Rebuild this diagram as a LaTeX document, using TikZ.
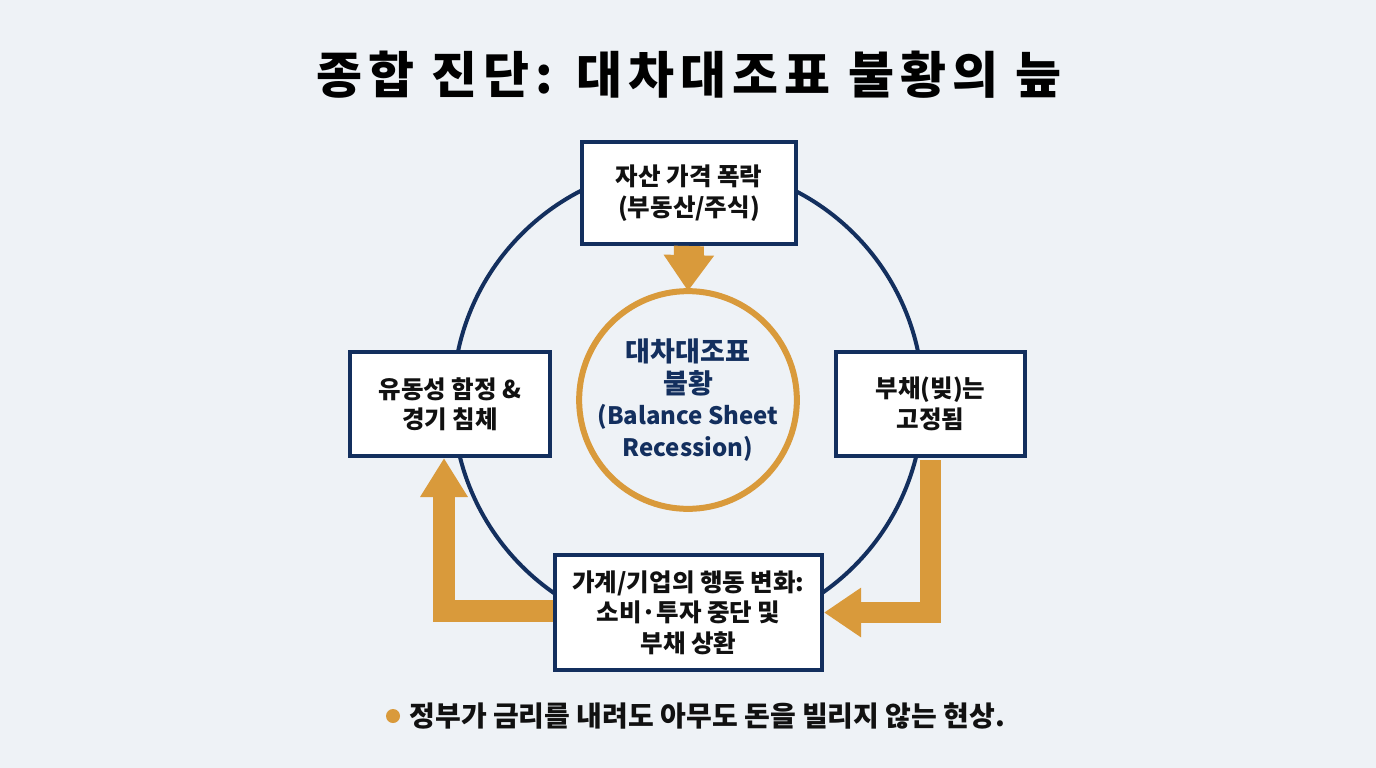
\documentclass[tikz,border=0pt]{standalone}
\usepackage{fontspec}
\setmainfont{Noto Sans CJK KR}
\usetikzlibrary{arrows.meta}
\definecolor{navy}{HTML}{132F5E}
\definecolor{gold}{HTML}{D99A3B}
\definecolor{bg}{HTML}{EEF2F6}
\definecolor{ink}{HTML}{111111}
\tikzset{
  box/.style={draw=navy, line width=4pt, fill=white, align=center, text=ink, font=\fontsize{24.5}{30.5}\selectfont\bfseries, inner sep=0pt},
  flow/.style={draw=gold, line width=#1, line join=miter},
}
\begin{document}
\begin{tikzpicture}[x=1pt,y=-1pt]
\fill[bg] (0,0) rectangle (1376,768);
\useasboundingbox (0,0) rectangle (1376,768);
\node[font=\fontsize{50}{58}\selectfont\bfseries\addfontfeatures{LetterSpace=12}, text=black] (title) at (689,75) {종합 진단: 대차대조표 불황의 늪};
% big circle
\coordinate (c) at (688,400);
\draw[navy, line width=4pt] (c) circle[radius=235];
% nodes
\node[box, minimum width=214pt, minimum height=102pt] (top) at (689,193) {자산 가격 폭락\\(부동산/주식)};
\node[box, minimum width=200pt, minimum height=104pt] (left) at (450,404) {유동성 함정 \&\\경기 침체};
\node[box, minimum width=189pt, minimum height=104pt] (right) at (930.5,404) {부채(빚)는\\고정됨};
\node[box, minimum width=267pt, minimum height=115pt] (bottom) at (688.5,612.5) {가계/기업의 행동 변화:\\소비·투자 중단 및\\부채 상환};
\node[circle, draw=gold, line width=6pt, fill=bg, minimum size=204pt, inner sep=0pt, align=center, text=navy, font=\fontsize{24}{31.5}\selectfont\bfseries] (inner) at (688,400) {{\fontsize{27}{31.5}\selectfont 대차대조표}\\{\fontsize{27}{31.5}\selectfont 불황}\\(Balance Sheet\\Recession)};
% arrows
\draw[flow=30pt, -{Triangle[width=48pt,length=36pt]}] (top.south) -- ([yshift=-3pt]inner.north);
\draw[flow=21pt, -{Triangle[width=47pt,length=37pt]}] ([yshift=-2pt]right.south) |- (bottom.east);
\draw[flow=22pt, -{Triangle[width=45pt,length=39pt]}] ([yshift=1.5pt]bottom.west) -| ([xshift=-6pt]left.south);
% footer
\node[font=\fontsize{28}{32}\selectfont\bfseries, text=ink, anchor=west] (foot) at (406,716) {정부가 금리를 내려도 아무도 돈을 빌리지 않는 현상.};
\fill[gold] ([xshift=-13pt]foot.west) circle[radius=7];
\end{tikzpicture}
\end{document}
